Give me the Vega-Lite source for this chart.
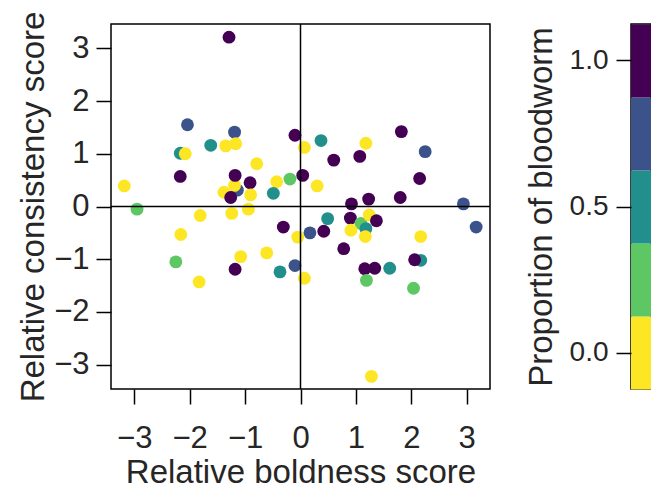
{
  "$schema": "https://vega.github.io/schema/vega-lite/v6.json",
  "padding": {"left": 16, "top": 10, "right": 0, "bottom": 0},
  "config": {
    "font": "Liberation Sans",
    "view": {"stroke": null},
    "axis": {
      "domain": false, "grid": false, "ticks": true,
      "tickColor": "black", "tickWidth": 1.5, "tickSize": 15,
      "labelColor": "#262626", "titleColor": "#262626",
      "labelFont": "Liberation Sans", "titleFont": "Liberation Sans",
      "labelFontSize": 31, "titleFontSize": 33, "titleFontWeight": "normal",
      "labelOverlap": false
    }
  },
  "datasets": {
    "pts": [
      {"x": -1.29, "y": 3.21, "p": 1},
      {"x": -2.04, "y": 1.55, "p": 0.75},
      {"x": -1.19, "y": 1.41, "p": 0.75},
      {"x": -1.62, "y": 1.16, "p": 0.5},
      {"x": -1.35, "y": 1.15, "p": 0},
      {"x": -1.17, "y": 1.19, "p": 0},
      {"x": -2.17, "y": 1.01, "p": 0.5},
      {"x": -2.08, "y": 1.0, "p": 0},
      {"x": -0.1, "y": 1.35, "p": 1},
      {"x": 0.37, "y": 1.25, "p": 0.5},
      {"x": 0.07, "y": 1.12, "p": 0},
      {"x": -0.79, "y": 0.81, "p": 0},
      {"x": -2.17, "y": 0.57, "p": 1},
      {"x": -1.14, "y": 0.31, "p": 0.75},
      {"x": -1.38, "y": 0.27, "p": 0},
      {"x": -1.19, "y": 0.4, "p": 0},
      {"x": -1.18, "y": 0.59, "p": 1},
      {"x": -1.26, "y": 0.17, "p": 1},
      {"x": -0.91, "y": 0.45, "p": 1},
      {"x": -0.43, "y": 0.47, "p": 0},
      {"x": -0.19, "y": 0.52, "p": 0.25},
      {"x": 0.04, "y": 0.59, "p": 1},
      {"x": 0.3, "y": 0.39, "p": 0},
      {"x": -3.18, "y": 0.39, "p": 0},
      {"x": -0.9, "y": 0.22, "p": 0},
      {"x": -0.49, "y": 0.25, "p": 0.5},
      {"x": -2.95, "y": -0.05, "p": 0.25},
      {"x": -1.81, "y": -0.17, "p": 0},
      {"x": -1.24, "y": -0.13, "p": 0},
      {"x": -0.94, "y": -0.05, "p": 0},
      {"x": -2.16, "y": -0.53, "p": 0},
      {"x": -0.31, "y": -0.39, "p": 1},
      {"x": 0.17, "y": -0.5, "p": 0.75},
      {"x": -0.05, "y": -0.58, "p": 0},
      {"x": 0.42, "y": -0.47, "p": 1},
      {"x": 0.49, "y": -0.23, "p": 0.5},
      {"x": -2.25, "y": -1.05, "p": 0.25},
      {"x": -1.83, "y": -1.43, "p": 0},
      {"x": -1.08, "y": -0.95, "p": 0},
      {"x": -1.18, "y": -1.19, "p": 1},
      {"x": -0.61, "y": -0.88, "p": 0},
      {"x": -0.37, "y": -1.24, "p": 0.5},
      {"x": -0.1, "y": -1.12, "p": 0.75},
      {"x": 0.07, "y": -1.36, "p": 0},
      {"x": 0.6, "y": 0.88, "p": 1},
      {"x": 1.07, "y": 0.95, "p": 1},
      {"x": 1.18, "y": 1.2, "p": 0},
      {"x": 1.82, "y": 1.42, "p": 1},
      {"x": 2.25, "y": 1.04, "p": 0.75},
      {"x": 2.15, "y": 0.53, "p": 1},
      {"x": 1.8, "y": 0.17, "p": 1},
      {"x": 1.23, "y": 0.14, "p": 1},
      {"x": 0.92, "y": 0.05, "p": 1},
      {"x": 2.94, "y": 0.05, "p": 0.75},
      {"x": 3.17, "y": -0.39, "p": 0.75},
      {"x": 0.9, "y": -0.22, "p": 1},
      {"x": 1.09, "y": -0.32, "p": 0.25},
      {"x": 1.18, "y": -0.42, "p": 0.5},
      {"x": 1.24, "y": -0.16, "p": 0},
      {"x": 1.37, "y": -0.27, "p": 1},
      {"x": 0.91, "y": -0.45, "p": 0},
      {"x": 1.17, "y": -0.57, "p": 0},
      {"x": 2.17, "y": -0.57, "p": 0},
      {"x": 0.78, "y": -0.8, "p": 1},
      {"x": 1.16, "y": -1.18, "p": 1},
      {"x": 1.34, "y": -1.17, "p": 1},
      {"x": 1.61, "y": -1.17, "p": 0.5},
      {"x": 1.19, "y": -1.4, "p": 0.25},
      {"x": 2.17, "y": -1.02, "p": 0.5},
      {"x": 2.06, "y": -1.01, "p": 1},
      {"x": 2.04, "y": -1.55, "p": 0.25},
      {"x": 1.28, "y": -3.22, "p": 0}
    ],
    "levels": [{"p": 0}, {"p": 0.25}, {"p": 0.5}, {"p": 0.75}, {"p": 1}]
  },
  "spacing": 32,
  "hconcat": [
    {
      "width": 379,
      "height": 365,
      "view": {"stroke": "black", "strokeWidth": 1.5},
      "layer": [
        {
          "data": {"name": "pts"},
          "mark": {"type": "circle", "size": 165, "opacity": 1},
          "encoding": {
            "x": {
              "field": "x", "type": "quantitative",
              "scale": {"domain": [-3.42, 3.42], "nice": false, "zero": false},
              "axis": {"values": [-3, -2, -1, 0, 1, 2, 3], "format": "d", "title": "Relative boldness score", "labelPadding": 19, "titlePadding": 3}
            },
            "y": {
              "field": "y", "type": "quantitative",
              "scale": {"domain": [-3.46, 3.46], "nice": false, "zero": false},
              "axis": {"values": [-3, -2, -1, 0, 1, 2, 3], "format": "d", "title": "Relative consistency score", "labelPadding": 7, "titlePadding": 3}
            },
            "color": {
              "field": "p", "type": "ordinal",
              "scale": {"domain": [0, 0.25, 0.5, 0.75, 1], "range": ["#FDE725", "#5DC863", "#21908C", "#3B528B", "#440154"]},
              "legend": null
            }
          }
        },
        {
          "data": {"values": [{}]},
          "mark": {"type": "rule", "color": "black", "strokeWidth": 1.5},
          "encoding": {"x": {"datum": 0}}
        },
        {
          "data": {"values": [{}]},
          "mark": {"type": "rule", "color": "black", "strokeWidth": 1.5},
          "encoding": {"y": {"datum": 0}}
        }
      ]
    },
    {
      "width": 20,
      "height": 365,
      "view": {"stroke": "black", "strokeWidth": 1.5},
      "data": {"name": "levels"},
      "mark": {"type": "rect"},
      "encoding": {
        "x": {"datum": "bar", "type": "nominal", "axis": null, "scale": {"paddingInner": 0, "paddingOuter": 0}},
        "y": {
          "field": "p", "type": "quantitative",
          "bin": {"extent": [-0.125, 1.125], "step": 0.25, "nice": false},
          "scale": {"domain": [-0.125, 1.125], "nice": false, "zero": false},
          "axis": {"values": [0, 0.5, 1], "format": ".1f", "title": "Proportion of bloodworm", "labelFontSize": 28, "labelPadding": 8, "titlePadding": 11}
        },
        "color": {
          "field": "p", "type": "ordinal",
          "scale": {"domain": [0, 0.25, 0.5, 0.75, 1], "range": ["#FDE725", "#5DC863", "#21908C", "#3B528B", "#440154"]},
          "legend": null
        }
      }
    }
  ]
}
